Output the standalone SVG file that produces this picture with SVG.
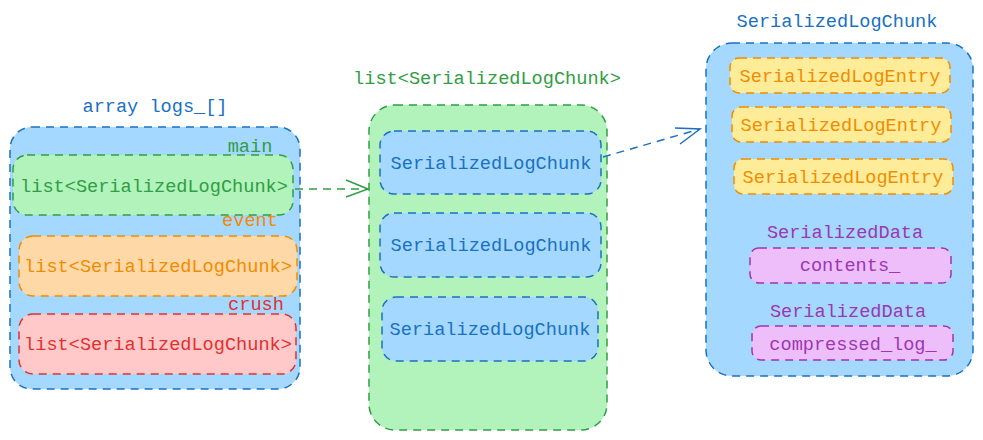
<svg xmlns="http://www.w3.org/2000/svg" width="983" height="440" viewBox="0 0 983 440">
<style>
text{font-family:"Liberation Mono","DejaVu Sans Mono",monospace;font-size:18.6px;text-anchor:middle}
rect{stroke-width:1.5;stroke-dasharray:8 6}
.blue{fill:#a5d8ff;stroke:#1971c2}
.green{fill:#b2f2bb;stroke:#2f9e44}
.orange{fill:#ffd8a8;stroke:#f08c00}
.red{fill:#ffc9c9;stroke:#e03131}
.yellow{fill:#ffec99;stroke:#f08c00}
.pink{fill:#eebefa;stroke:#9c36b5}
.tb{fill:#1971c2}.tg{fill:#2f9e44}.to{fill:#f08c00}.tr{fill:#e03131}.tp{fill:#9c36b5}
.conn{fill:none;stroke-width:1.5;stroke-dasharray:8 6}
.head{fill:none;stroke-width:1.5}
</style>
<rect width="983" height="440" fill="#ffffff" style="stroke:none"/>
<g id="logs-array">
<text x="155" y="112" class="tb">array logs_[]</text>
<rect x="10" y="127" width="290" height="262" rx="22" class="blue"/>
</g>
<g id="main">
<text x="250" y="152" class="tg">main</text>
<rect x="13" y="155" width="280" height="60" rx="14" class="green"/>
<text x="154" y="192" class="tg">list&lt;SerializedLogChunk&gt;</text>
</g>
<g id="event">
<text x="250" y="226" class="to">event</text>
<rect x="19" y="236" width="278" height="60" rx="14" class="orange"/>
<text x="158" y="272" class="to">list&lt;SerializedLogChunk&gt;</text>
</g>
<g id="crush">
<text x="256" y="310" class="tr">crush</text>
<rect x="19" y="314" width="277" height="60" rx="14" class="red"/>
<text x="158" y="350" class="tr">list&lt;SerializedLogChunk&gt;</text>
</g>
<g id="chunk-list">
<text x="487" y="84" class="tg">list&lt;SerializedLogChunk&gt;</text>
<rect x="369" y="105" width="238" height="325" rx="26" class="green"/>
</g>
<g id="chunk-1">
<rect x="380" y="131" width="221" height="63" rx="14" class="blue"/>
<text x="491" y="169" class="tb">SerializedLogChunk</text>
</g>
<g id="chunk-2">
<rect x="380" y="213" width="221" height="64" rx="14" class="blue"/>
<text x="491" y="251" class="tb">SerializedLogChunk</text>
</g>
<g id="chunk-3">
<rect x="382" y="297" width="216" height="64" rx="14" class="blue"/>
<text x="490" y="335" class="tb">SerializedLogChunk</text>
</g>
<g id="chunk-detail">
<text x="837" y="27" class="tb">SerializedLogChunk</text>
<rect x="706" y="43" width="267" height="333" rx="26" class="blue"/>
</g>
<g id="entry-1">
<rect x="730" y="58" width="220" height="35" rx="9" class="yellow"/>
<text x="840" y="82" class="to">SerializedLogEntry</text>
</g>
<g id="entry-2">
<rect x="732" y="107" width="219" height="35" rx="9" class="yellow"/>
<text x="841" y="131" class="to">SerializedLogEntry</text>
</g>
<g id="entry-3">
<rect x="734" y="159" width="219" height="35" rx="9" class="yellow"/>
<text x="843" y="183" class="to">SerializedLogEntry</text>
</g>
<g id="contents">
<text x="845" y="238" class="tp">SerializedData</text>
<rect x="750" y="248" width="201" height="35" rx="9" class="pink"/>
<text x="850" y="271" class="tp">contents_</text>
</g>
<g id="compressed-log">
<text x="848" y="317" class="tp">SerializedData</text>
<rect x="752" y="326" width="201" height="34" rx="9" class="pink"/>
<text x="853" y="350" class="tp">compressed_log_</text>
</g>
<g id="connectors">
<path d="M295 189 L368 189" class="conn" stroke="#2f9e44"/>
<path d="M346 180 L368 189 L346 197" class="head" stroke="#2f9e44"/>
<path d="M603 157 L700 129" class="conn" stroke="#1971c2"/>
<path d="M675 128 L700 129 L680 144" class="head" stroke="#1971c2"/>
</g>
</svg>
